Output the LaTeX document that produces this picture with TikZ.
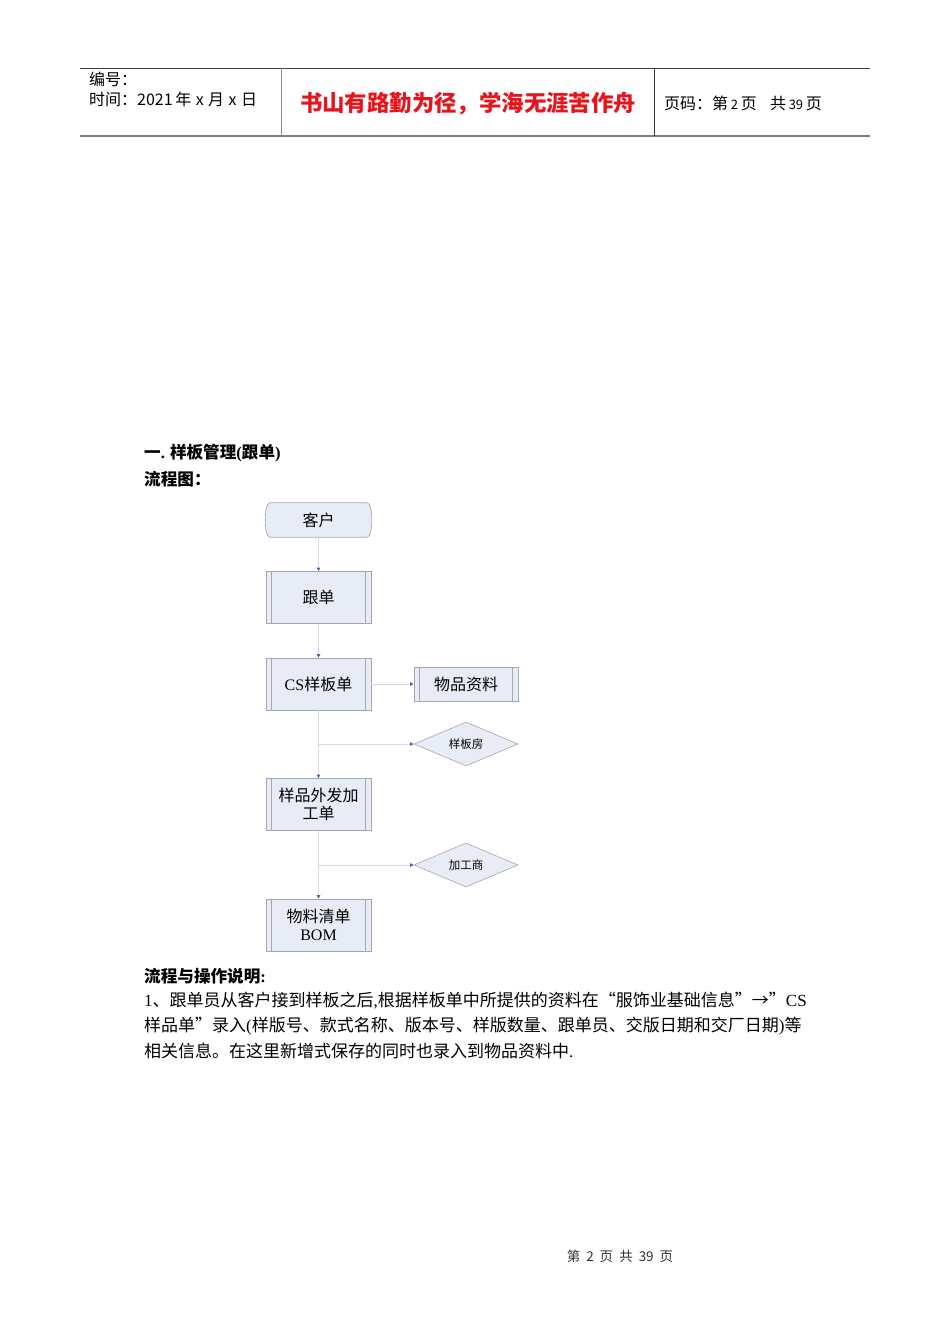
\documentclass[tikz,border=0pt]{standalone}
\usepackage{fontspec}
\setmainfont{Noto Sans CJK SC}
\newfontfamily\tnr{Liberation Serif}
\XeTeXlinebreaklocale "zh"
\XeTeXlinebreakskip=0pt plus 2pt
\usetikzlibrary{shapes.geometric,arrows.meta,backgrounds}
\definecolor{boxfill}{HTML}{E8ECF6}
\definecolor{boxline}{HTML}{A4A6B6}
\definecolor{conline}{HTML}{D8D8E0}
\definecolor{arrblue}{HTML}{4A68AA}
\definecolor{redtxt}{HTML}{E8141C}
\tikzset{
  procbox/.style={rectangle, draw=boxline, fill=boxfill, line width=0.7pt,
    minimum width=105pt, minimum height=52pt, inner sep=0pt, align=center,
    font=\fontsize{16}{18}\selectfont,
    append after command={
      \pgfextra{\let\mynode\tikzlastnode}
      ([xshift=6pt]\mynode.north west) edge[draw=boxline,line width=0.6pt] ([xshift=6pt]\mynode.south west)
      ([xshift=-6pt]\mynode.north east) edge[draw=boxline,line width=0.6pt] ([xshift=-6pt]\mynode.south east)
    }},
  decbox/.style={diamond, draw=boxline, fill=boxfill, line width=0.6pt, aspect=2.36,
    minimum width=104pt, minimum height=44pt, inner sep=0pt,
    font=\fontsize{11.5}{13}\selectfont},
  conn/.style={draw=conline, line width=0.7pt,
    -{Triangle[length=3.5pt,width=3.5pt,color=arrblue]}},
  hdr/.style={font=\fontsize{16}{18}\selectfont, inner sep=0pt, anchor=west},
  body/.style={font=\fontsize{17}{20}\selectfont, inner sep=0pt, anchor=west},
}
\begin{document}
\begin{tikzpicture}[x=1pt,y=-1pt]
\useasboundingbox (0,0) rectangle (950,1344);
\begin{scope}[on background layer]
\fill[white] (0,0) rectangle (950,1344);
\end{scope}
% header
\coordinate (h1) at (80,68);
\coordinate (h2) at (870,68);
\coordinate (h3) at (80,136);
\coordinate (h4) at (870,136);
\draw[line width=1pt, color=black!75] (h1) -- (h2);
\draw[line width=1.8pt, color=black!50] (h3) -- (h4);
\draw[line width=1pt, color=black!45] (281,68) -- (281,136);
\draw[line width=1pt, color=black!80] (654,68) -- (654,136);
\node[hdr] (bh) at (89,79) {编号：};
\node[hdr] (sj) at (89,99) {时间：2021\,年\;x\;月\;x\;日};
\node[font=\bfseries\fontsize{22.4}{24}\selectfont, text=redtxt, inner sep=0pt] (motto) at (468,104) {书山有路勤为径，学海无涯苦作舟};
\node[hdr] (ym) at (664,103) {页码：第\,{\fontsize{13}{14}\selectfont 2}\,页\;\;\;共\,{\fontsize{13}{14}\selectfont 39}\,页};
% headings
\node[body, font=\bfseries\fontsize{16.6}{20}\selectfont] (t1) at (144,453) {一{\tnr .} 样板管理{\tnr (}跟单{\tnr )}};
\node[body, font=\bfseries\fontsize{16.6}{20}\selectfont] (t2) at (144,479) {流程图：};
% flowchart
\node[rectangle, minimum width=105pt, minimum height=34pt, inner sep=0pt, font=\fontsize{16}{18}\selectfont] (kehu) at (318.5,520) {客户};
\begin{scope}[on background layer]
\filldraw[fill=boxfill, draw=boxline, line width=0.7pt]
  ([xshift=4pt]kehu.north west) -- ([xshift=-4pt]kehu.north east)
  .. controls ([xshift=2pt]kehu.north east) and ([xshift=2pt]kehu.south east) .. ([xshift=-4pt]kehu.south east)
  -- ([xshift=4pt]kehu.south west)
  .. controls ([xshift=-2pt]kehu.south west) and ([xshift=-2pt]kehu.north west) .. ([xshift=4pt]kehu.north west) -- cycle;
\end{scope}
\node[procbox] (gd) at (318.5,597.5) {跟单};
\node[procbox] (cs) at (318.5,684) {{\tnr CS}样板单};
\node[procbox, minimum width=104pt, minimum height=34pt] (wp) at (466,684) {物品资料};
\node[decbox] (ybf) at (466,744) {样板房};
\node[procbox, font=\fontsize{16}{18.5}\selectfont] (wf) at (318.5,804.5) {样品外发加\\工单};
\node[decbox] (jgs) at (466,865) {加工商};
\node[procbox, font=\fontsize{16}{18}\selectfont] (bom) at (318.5,925) {物料清单\\{\tnr BOM}};
\draw[conn] (kehu.south) -- (gd.north);
\draw[conn] (gd.south) -- (cs.north);
\draw[conn] (cs.east) -- (wp.west);
\draw[conn] (cs.south) -- (wf.north);
\draw[conn] (wf.south) -- (bom.north);
\coordinate (b1) at (cs.south |- ybf.west);
\coordinate (b2) at (wf.south |- jgs.west);
\draw[conn] (b1) -- (ybf.west);
\draw[conn] (b2) -- (jgs.west);
% body text
\node[body, font=\bfseries\fontsize{16.6}{20}\selectfont] (t3) at (144,976) {流程与操作说明{\tnr :}};
\node[body] (l1) at (144,1001) {\makebox[662pt][s]{{\tnr 1}、跟单员从客户接到样板之后{\tnr ,}根据样板单中所提供的资料在“服饰业基础信息”→”{\tnr CS}}};
\node[body] (l2) at (144,1026) {\makebox[662pt][s]{样品单”录入{\tnr (}样版号、款式名称、版本号、样版数量、跟单员、交版日期和交厂日期{\tnr )}等}};
\node[body] (l3) at (144,1051) {相关信息。在这里新增式保存的同时也录入到物品资料中{\tnr .}};
% footer
\node[font=\fontsize{13.5}{15}\selectfont, inner sep=0pt, text=black!80] (ft) at (620,1256) {第\hspace{6pt}2\hspace{6pt}页\hspace{6pt}共\hspace{6pt}39\hspace{6pt}页};
\end{tikzpicture}
\end{document}
